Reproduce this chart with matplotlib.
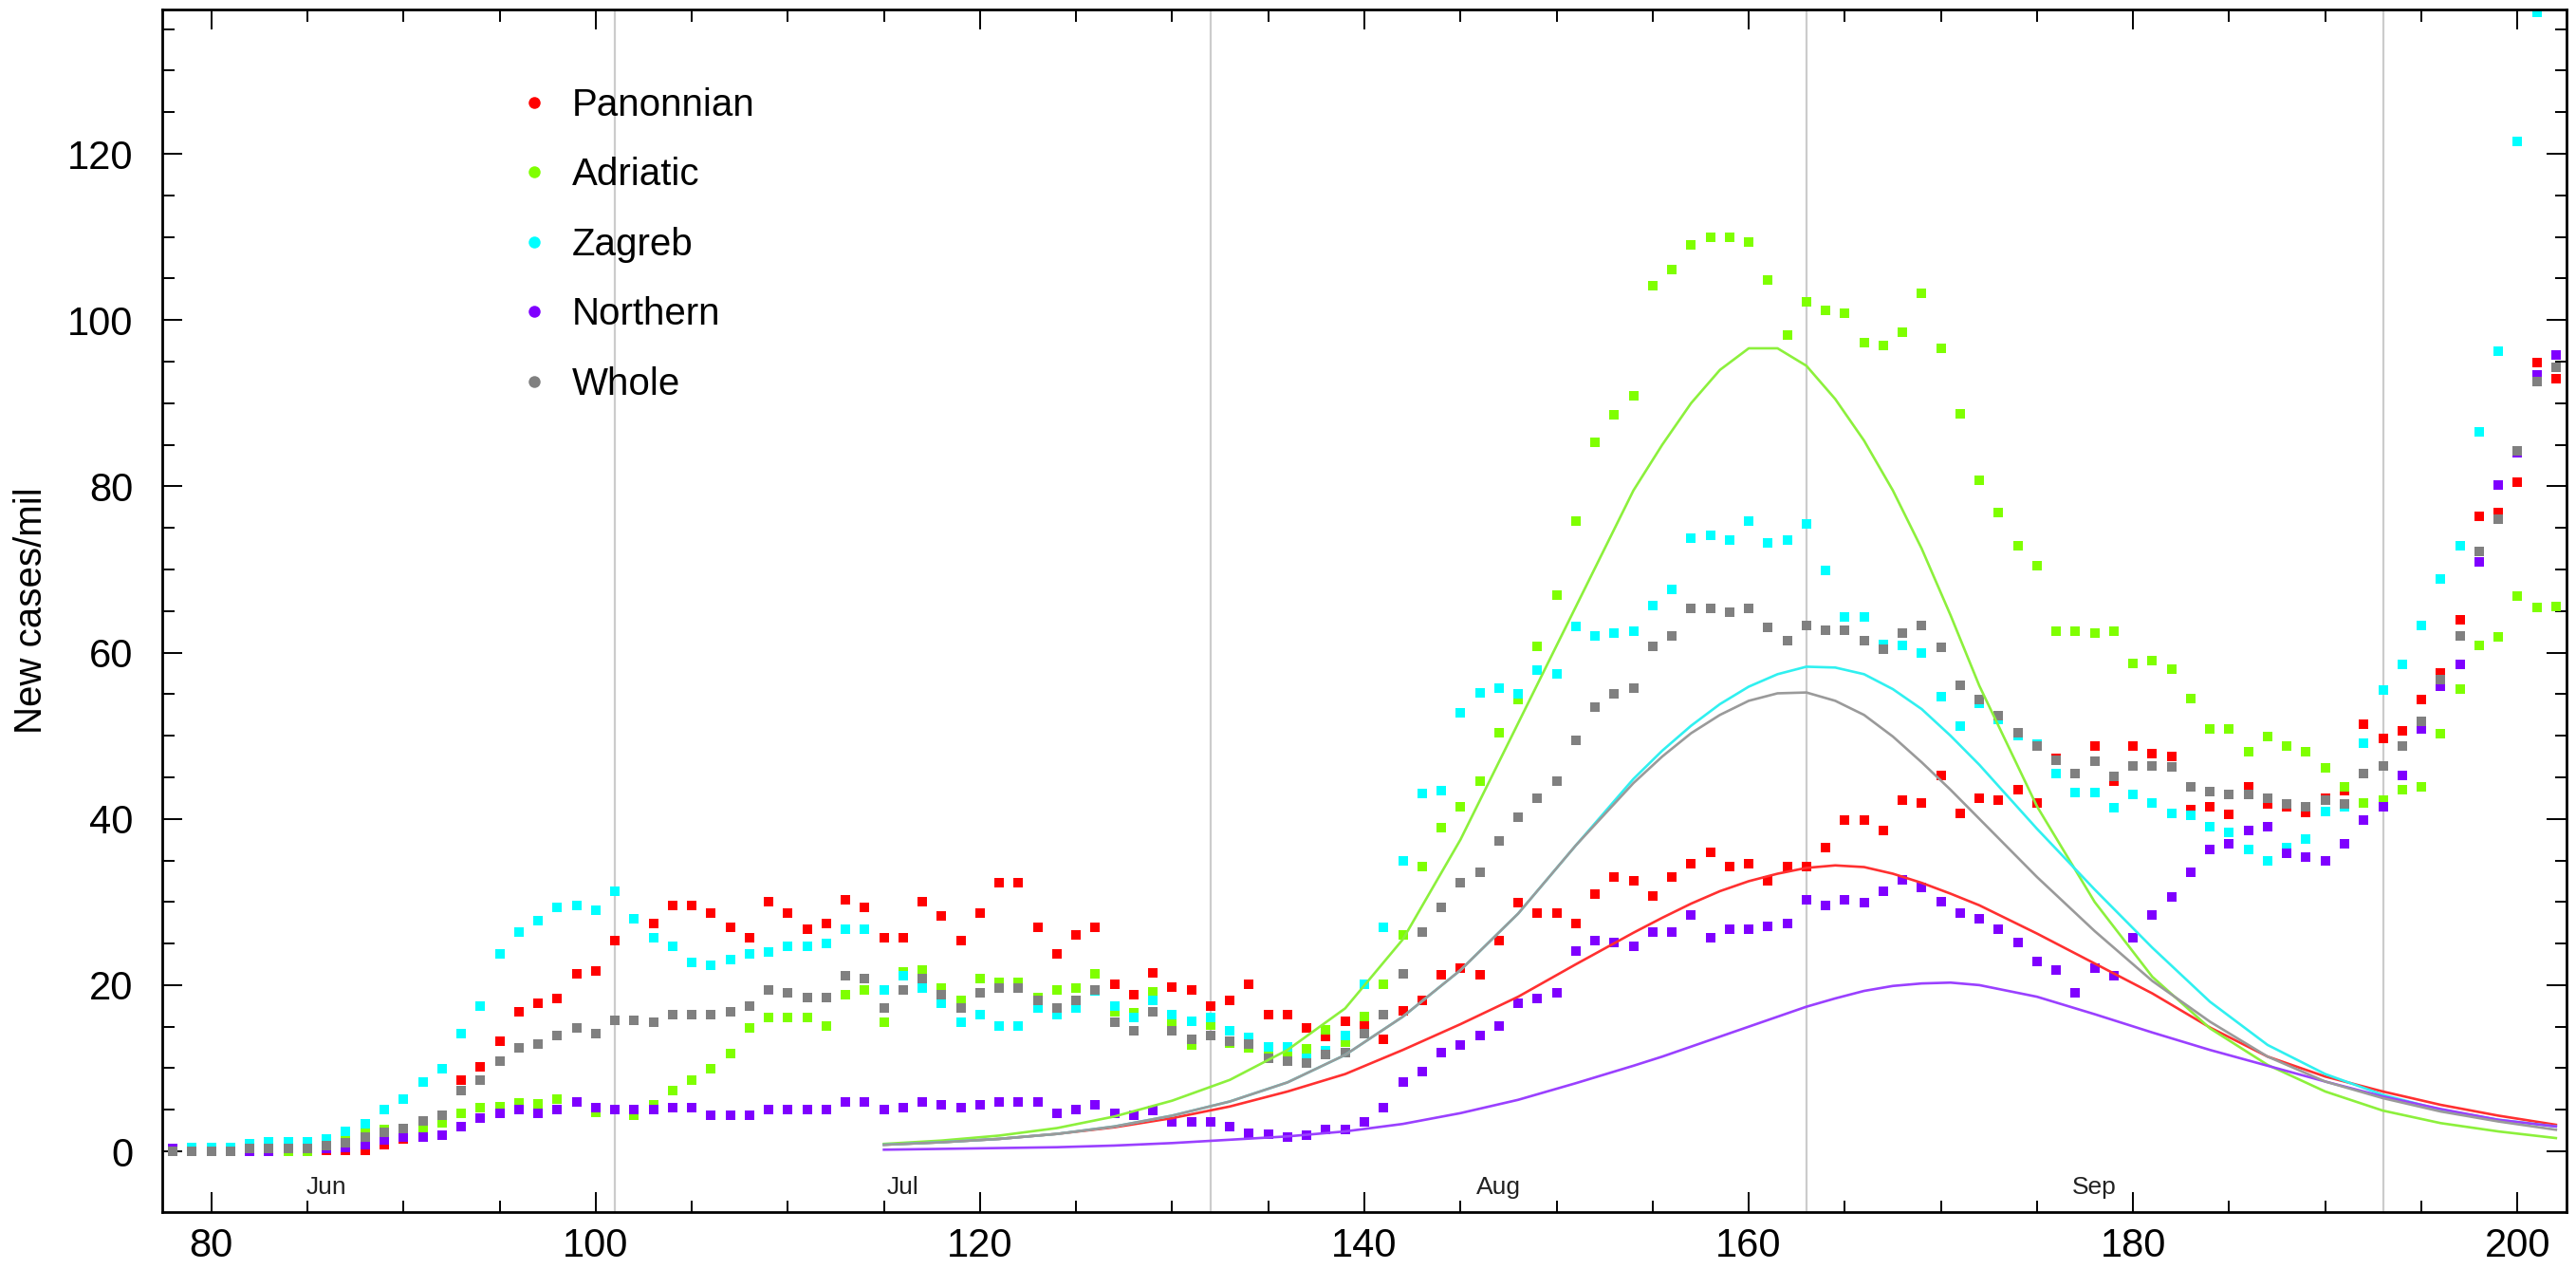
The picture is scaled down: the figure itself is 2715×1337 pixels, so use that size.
import numpy as np
import matplotlib
matplotlib.use("Agg")
import matplotlib.pyplot as plt
from matplotlib.lines import Line2D

plt.rcParams['font.family'] = ['Liberation Sans', 'DejaVu Sans']

# daily new cases per million, days counted from 8 March
days = np.arange(78, 203)

panonnian = [0, 0, 0, 0, 0, 0, 0, 0, 0.1, 0.15,
             0.15, 0.8, 1.5, 3.0, 4.3, 8.6, 10.2, 13.2, 16.8, 17.8,
             18.4, 21.4, 21.7, 25.4, 28.0, 27.4, 29.6, 29.6, 28.7, 27.0,
             25.7, 30.0, 28.7, 26.7, 27.4, 30.3, 29.3, 25.7, 25.7, 30.0,
             28.3, 25.4, 28.7, 32.3, 32.3, 27.0, 23.7, 26.0, 27.0, 20.1,
             18.8, 21.5, 19.8, 19.4, 17.5, 18.2, 20.1, 16.5, 16.5, 14.9,
             13.8, 15.6, 15.2, 13.5, 16.9, 18.2, 21.2, 22.0, 21.2, 25.4,
             29.9, 28.7, 28.7, 27.4, 31.0, 33.0, 32.6, 30.7, 33.0, 34.6,
             36.0, 34.3, 34.6, 32.6, 34.3, 34.3, 36.6, 39.9, 39.9, 38.6,
             42.2, 41.9, 45.2, 40.6, 42.5, 42.2, 43.5, 41.9, 47.3, 45.5,
             48.8, 44.5, 48.8, 47.8, 47.5, 41.1, 41.5, 40.5, 43.8, 41.8,
             41.4, 40.8, 42.5, 43.4, 51.4, 49.7, 50.6, 54.4, 57.5, 64.0,
             76.4, 76.8, 80.5, 94.9, 92.9]

adriatic = [0, 0, 0, 0, 0, 0, 0, 0, 0.3, 1.8,
            2.5, 2.6, 2.8, 2.9, 3.4, 4.6, 5.3, 5.4, 5.8, 5.7,
            6.3, 5.9, 4.7, 5.0, 4.3, 5.6, 7.3, 8.6, 9.9, 11.8,
            14.8, 16.1, 16.1, 16.1, 15.1, 18.8, 19.4, 15.5, 21.6, 21.8,
            19.6, 18.2, 20.8, 20.3, 20.3, 18.5, 19.4, 19.7, 21.4, 16.8,
            16.7, 19.2, 15.3, 12.8, 15.2, 13.0, 12.4, 11.8, 11.5, 12.3,
            14.6, 13.1, 16.2, 20.1, 26.0, 34.3, 38.9, 41.5, 44.5, 50.4,
            54.3, 60.7, 66.9, 75.8, 85.3, 88.6, 90.9, 104.1, 106.1, 109.0,
            110.0, 110.0, 109.4, 104.8, 98.2, 102.2, 101.2, 100.8, 97.3, 96.9,
            98.5, 103.2, 96.6, 88.7, 80.7, 76.8, 72.9, 70.5, 62.6, 62.6,
            62.3, 62.6, 58.7, 59.0, 58.0, 54.5, 50.8, 50.8, 48.1, 49.9,
            48.8, 48.1, 46.1, 43.8, 41.9, 42.2, 43.5, 43.8, 50.2, 55.6,
            60.9, 61.9, 66.8, 65.4, 65.5]

zagreb = [0.2, 0.5, 0.5, 0.5, 0.9, 1.2, 1.2, 1.2, 1.5, 2.4,
          3.3, 5.0, 6.3, 8.3, 9.9, 14.2, 17.5, 23.7, 26.4, 27.7,
          29.3, 29.6, 29.0, 31.3, 28.0, 25.7, 24.7, 22.7, 22.4, 23.1,
          23.7, 24.0, 24.7, 24.7, 25.0, 26.7, 26.7, 19.4, 21.1, 19.7,
          17.8, 15.5, 16.4, 15.1, 15.1, 17.2, 16.4, 17.2, 19.3, 17.5,
          16.1, 18.2, 16.5, 15.6, 16.1, 14.5, 13.7, 12.6, 12.6, 11.2,
          12.1, 13.9, 20.1, 27.0, 34.9, 43.1, 43.4, 52.7, 55.1, 55.7,
          55.0, 57.9, 57.4, 63.2, 62.0, 62.3, 62.6, 65.6, 67.6, 73.8,
          74.1, 73.5, 75.8, 73.2, 73.5, 75.5, 69.9, 64.3, 64.3, 61.0,
          60.9, 60.0, 54.7, 51.1, 53.9, 52.0, 50.0, 49.0, 45.5, 43.2,
          43.2, 41.3, 42.9, 41.9, 40.6, 40.4, 39.0, 38.4, 36.3, 35.0,
          36.5, 37.6, 40.9, 41.5, 49.1, 55.5, 58.6, 63.3, 68.8, 72.9,
          86.5, 96.3, 121.5, 137.0, 145.0]

northern = [0.4, 0, 0, 0, 0, 0, 0.3, 0.3, 0.4, 0.5,
            0.8, 1.4, 1.7, 1.7, 2.0, 3.0, 4.0, 4.6, 5.0, 4.6,
            5.0, 5.9, 5.3, 5.0, 5.0, 5.0, 5.3, 5.3, 4.3, 4.3,
            4.3, 5.0, 5.0, 5.0, 5.0, 5.9, 5.9, 5.0, 5.3, 5.9,
            5.6, 5.3, 5.6, 5.9, 5.9, 5.9, 4.6, 5.0, 5.6, 4.6,
            4.3, 4.9, 3.6, 3.6, 3.6, 3.0, 2.2, 2.1, 1.7, 2.0,
            2.6, 2.6, 3.6, 5.3, 8.3, 9.6, 11.9, 12.8, 13.9, 15.1,
            17.8, 18.4, 19.1, 24.1, 25.4, 25.1, 24.7, 26.4, 26.4, 28.4,
            25.7, 26.7, 26.7, 27.1, 27.4, 30.3, 29.6, 30.3, 29.9, 31.3,
            32.7, 31.7, 30.0, 28.7, 28.0, 26.7, 25.1, 22.8, 21.8, 19.1,
            22.1, 21.1, 25.7, 28.4, 30.6, 33.6, 36.3, 37.0, 38.6, 39.0,
            35.9, 35.4, 35.0, 37.0, 39.9, 41.5, 45.2, 50.8, 55.9, 58.6,
            70.9, 80.1, 84.0, 93.4, 95.8]

whole = [0, 0, 0, 0, 0.35, 0.35, 0.35, 0.35, 0.7, 1.0,
         1.75, 2.3, 2.7, 3.65, 4.3, 7.3, 8.6, 10.9, 12.5, 12.9,
         13.9, 14.9, 14.2, 15.8, 15.8, 15.5, 16.4, 16.4, 16.4, 16.8,
         17.5, 19.4, 19.1, 18.5, 18.5, 21.1, 20.8, 17.2, 19.4, 20.8,
         18.8, 17.2, 19.1, 19.7, 19.7, 18.2, 17.2, 18.2, 19.4, 15.5,
         14.5, 16.8, 14.5, 13.5, 13.9, 13.2, 12.9, 11.2, 10.9, 10.6,
         11.6, 11.9, 14.2, 16.5, 21.4, 26.4, 29.4, 32.3, 33.6, 37.3,
         40.2, 42.5, 44.5, 49.4, 53.4, 55.0, 55.7, 60.7, 62.0, 65.3,
         65.3, 64.9, 65.3, 63.0, 61.4, 63.3, 62.7, 62.7, 61.4, 60.4,
         62.3, 63.3, 60.6, 56.1, 54.3, 52.4, 50.4, 48.8, 47.0, 45.4,
         46.9, 45.1, 46.4, 46.4, 46.2, 43.8, 43.3, 42.9, 42.9, 42.5,
         41.8, 41.5, 42.2, 41.8, 45.5, 46.4, 48.8, 51.7, 56.7, 62.0,
         72.2, 76.1, 84.3, 92.6, 94.3]

# fitted curves, sampled more finely around the peaks
fit_days = [115, 118, 121, 124, 127, 130, 133, 136, 139, 142, 145, 148, 151,
            154, 155.5, 157, 158.5, 160, 161.5, 163, 164.5, 166, 167.5, 169, 170.5, 172,
            175, 178, 181, 184, 187, 190, 193, 196, 199, 202]
panonnian_fit = [0.8, 1.1, 1.5, 2.1, 2.9, 4.0, 5.4, 7.2, 9.3, 12.2, 15.3, 18.6, 22.5,
                 26.3, 28.1, 29.8, 31.3, 32.5, 33.4, 34.1, 34.4, 34.2, 33.4, 32.3, 31.0, 29.6,
                 26.2, 22.6, 19.0, 14.9, 11.4, 9.0, 7.2, 5.6, 4.3, 3.2]
adriatic_fit = [0.9, 1.3, 1.9, 2.8, 4.2, 6.1, 8.6, 12.2, 17.2, 25.5, 37.5, 51.5, 65.5,
                79.5, 85.0, 90.0, 94.0, 96.6, 96.6, 94.5, 90.5, 85.5, 79.5, 72.5, 64.5, 56.0,
                41.5, 30.0, 21.0, 14.8, 10.4, 7.2, 4.9, 3.4, 2.4, 1.6]
zagreb_fit = [0.8, 1.1, 1.5, 2.1, 3.0, 4.3, 6.0, 8.3, 11.6, 16.2, 21.8, 28.6, 36.8,
              44.8, 48.2, 51.2, 53.8, 55.9, 57.4, 58.3, 58.2, 57.4, 55.6, 53.2, 50.0, 46.5,
              38.8, 31.5, 24.5, 18.0, 12.8, 9.3, 6.8, 5.0, 3.8, 3.0]
northern_fit = [0.2, 0.3, 0.4, 0.5, 0.7, 1.0, 1.4, 1.8, 2.4, 3.3, 4.6, 6.2, 8.2,
                10.3, 11.4, 12.6, 13.8, 15.0, 16.2, 17.4, 18.4, 19.3, 19.9, 20.2, 20.3, 20.0,
                18.6, 16.5, 14.3, 12.2, 10.3, 8.4, 6.6, 5.1, 3.8, 3.0]
whole_fit = [0.8, 1.1, 1.5, 2.1, 3.0, 4.3, 6.0, 8.3, 11.6, 16.2, 21.8, 28.6, 36.8,
             44.3, 47.5, 50.3, 52.5, 54.2, 55.1, 55.2, 54.2, 52.5, 49.9, 46.8, 43.5, 40.0,
             33.0, 26.5, 20.5, 15.6, 11.4, 8.4, 6.4, 4.8, 3.6, 2.6]

regions = ['Panonnian', 'Adriatic', 'Zagreb', 'Northern', 'Whole']
colors = ['#ff0000', '#7fff00', '#00ffff', '#7f00ff', '#808080']
line_colors = ['#ff3030', '#8cf03c', '#30f0f0', '#9a40ff', '#9a9a9a']

months = ['Jun', 'Jul', 'Aug', 'Sep']
month_start = [86, 116, 147, 178]
mid_month = [101, 132, 163, 193]

points = [panonnian, adriatic, zagreb, northern, whole]
fits = [panonnian_fit, adriatic_fit, zagreb_fit, northern_fit, whole_fit]

fig = plt.figure(figsize=(27.15, 13.37), dpi=100)
ax = fig.add_axes([0.0630, 0.0452, 0.9333, 0.9476])

for d in mid_month:
    ax.axvline(d, color='#cccccc', lw=1.6, zorder=0)

for vals, c in zip(points, colors):
    ax.plot(days, vals, 's', color=c, ms=7, mew=0, zorder=2)

for vals, c in zip(fits, line_colors):
    ax.plot(fit_days, vals, '-', color=c, lw=1.9, zorder=3)

for m, d in zip(months, month_start):
    ax.text(d, -4.3, m, ha='center', va='center', fontsize=19, color='#222222')

ax.set_xlim(77.45, 202.55)
ax.set_ylim(-7.25, 137.4)
ax.set_xticks(np.arange(80, 201, 20))
ax.set_xticks(np.arange(80, 202, 5), minor=True)
ax.set_yticks(np.arange(0, 121, 20))
ax.set_yticks(np.arange(0, 136, 5), minor=True)
ax.tick_params(which='both', direction='in', top=True, right=True, width=1.4)
ax.tick_params(which='major', length=15, labelsize=30)
ax.tick_params(which='minor', length=9)
ax.tick_params(axis='x', pad=12)
ax.tick_params(axis='y', pad=22)
for s in ax.spines.values():
    s.set_linewidth(2)

ax.set_ylabel('New cases/mil', fontsize=29, labelpad=14)

handles = [Line2D([], [], ls='none', marker='o', ms=9, mew=0, color=c) for c in colors]
ax.legend(handles, regions, loc='upper left', bbox_to_anchor=(0.1506, 0.935),
          frameon=False, fontsize=29, handlelength=0.5, handletextpad=0.75,
          labelspacing=0.88, borderpad=0, borderaxespad=0)

fig.savefig('out.png', dpi=100)
